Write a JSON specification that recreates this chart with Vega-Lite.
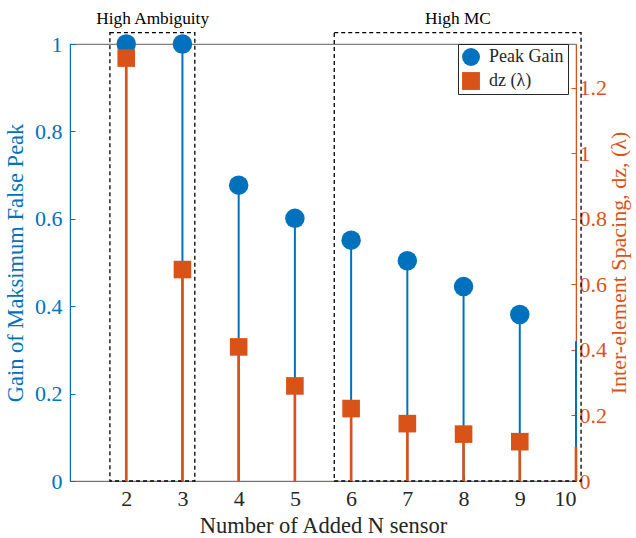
{
  "$schema": "https://vega.github.io/schema/vega-lite/v6.json",
  "width": 506,
  "height": 437,
  "autosize": {"type": "none"},
  "padding": {"left": 70, "top": 44, "right": 60, "bottom": 57},
  "background": "white",
  "config": {
    "font": "Liberation Serif",
    "view": {"stroke": "#808080", "strokeWidth": 1.2},
    "axis": {"labelFont": "Liberation Serif", "titleFont": "Liberation Serif", "titleFontWeight": "normal", "grid": false, "format": "~g"}
  },
  "data": {
    "values": [
      {"n": 2, "gain": 1.0, "dz": 1.29},
      {"n": 3, "gain": 1.0, "dz": 0.645},
      {"n": 4, "gain": 0.677, "dz": 0.409},
      {"n": 5, "gain": 0.601, "dz": 0.29},
      {"n": 6, "gain": 0.551, "dz": 0.221},
      {"n": 7, "gain": 0.504, "dz": 0.175},
      {"n": 8, "gain": 0.445, "dz": 0.143},
      {"n": 9, "gain": 0.381, "dz": 0.12},
      {"n": 10, "gain": 0.32, "dz": 0.104}
    ]
  },
  "layer": [
    {
      "layer": [
        {
          "mark": {"type": "rule", "color": "#0072BD", "strokeWidth": 2},
          "encoding": {
            "x": {"field": "n", "type": "quantitative", "scale": {"domain": [1, 10], "nice": false, "zero": false},
              "axis": {"values": [2, 3, 4, 5, 6, 7, 8, 9, 10], "format": "~g", "title": "Number of Added N sensor", "labelFontSize": 22, "titleFontSize": 22.5, "labelColor": "#262626", "titleColor": "#262626", "domainColor": "#D95319", "tickColor": "#262626", "tickSize": -5, "labelPadding": 12, "titlePadding": 5}},
            "y": {"field": "gain", "type": "quantitative", "scale": {"domain": [0, 1], "nice": false},
              "axis": {"orient": "left", "values": [0, 0.2, 0.4, 0.6, 0.8, 1], "format": "~g", "title": "Gain of Maksimum False Peak", "labelFontSize": 22, "titleFontSize": 22.5, "labelColor": "#0072BD", "titleColor": "#0072BD", "domainColor": "#0072BD", "tickColor": "#0072BD", "tickSize": -5, "labelPadding": 13, "titlePadding": 7}},
            "y2": {"datum": 0}
          }
        },
        {
          "transform": [{"filter": "datum.n < 10"}],
          "mark": {"type": "point", "filled": true, "size": 380, "opacity": 1},
          "encoding": {
            "x": {"field": "n", "type": "quantitative"},
            "y": {"field": "gain", "type": "quantitative"},
            "color": {"datum": "Peak Gain", "type": "nominal", "scale": {"domain": ["Peak Gain", "dz (λ)"], "range": ["#0072BD", "#D95319"]},
              "legend": {"title": null, "orient": "none", "legendX": 388, "legendY": 0, "strokeColor": "#262626", "fillColor": "white", "padding": 4, "labelFontSize": 18, "labelColor": "#262626", "labelFont": "Liberation Serif", "symbolSize": 320, "symbolStrokeWidth": 0, "rowPadding": 6, "labelOffset": 9}},
            "shape": {"datum": "Peak Gain", "type": "nominal", "scale": {"domain": ["Peak Gain", "dz (λ)"], "range": ["circle", "square"]}, "legend": null}
          }
        },
        {
          "data": {"values": [
            {"x1": 1.71, "x2": 3.22, "y1": 0, "y2": 1.026, "label": "High Ambiguity", "lx": 2.47, "ly": 1.058},
            {"x1": 5.7, "x2": 10.09, "y1": 0, "y2": 1.026, "label": "High MC", "lx": 7.9, "ly": 1.058}
          ]},
          "layer": [
            {
              "mark": {"type": "rect", "filled": false, "stroke": "black", "strokeWidth": 1.3, "strokeDash": [4, 3], "clip": false},
              "encoding": {
                "x": {"field": "x1", "type": "quantitative"},
                "x2": {"field": "x2"},
                "y": {"field": "y1", "type": "quantitative"},
                "y2": {"field": "y2"}
              }
            },
            {
              "mark": {"type": "text", "fontSize": 17.3, "color": "black", "font": "Liberation Serif", "clip": false},
              "encoding": {
                "x": {"field": "lx", "type": "quantitative"},
                "y": {"field": "ly", "type": "quantitative"},
                "text": {"field": "label"}
              }
            }
          ]
        }
      ]
    },
    {
      "layer": [
        {
          "mark": {"type": "rule", "color": "#D95319", "strokeWidth": 2.6},
          "encoding": {
            "x": {"field": "n", "type": "quantitative"},
            "y": {"field": "dz", "type": "quantitative", "scale": {"domain": [0, 1.333], "nice": false},
              "axis": {"orient": "right", "values": [0, 0.2, 0.4, 0.6, 0.8, 1, 1.2], "format": "~g", "title": "Inter-element Spacing, dz, (λ)", "labelFontSize": 22, "titleFontSize": 22, "labelColor": "#D95319", "titleColor": "#D95319", "domainColor": "#D95319", "tickColor": "#D95319", "tickSize": -5, "labelPadding": 8, "titlePadding": 2, "titleAngle": -90, "titleBaseline": "top"}},
            "y2": {"datum": 0}
          }
        },
        {
          "transform": [{"filter": "datum.n < 10"}],
          "mark": {"type": "point", "filled": true, "size": 310, "opacity": 1},
          "encoding": {
            "x": {"field": "n", "type": "quantitative"},
            "y": {"field": "dz", "type": "quantitative"},
            "color": {"datum": "dz (λ)", "type": "nominal", "legend": null},
            "shape": {"datum": "dz (λ)", "type": "nominal", "legend": null}
          }
        }
      ]
    }
  ],
  "resolve": {"scale": {"y": "independent"}}
}
